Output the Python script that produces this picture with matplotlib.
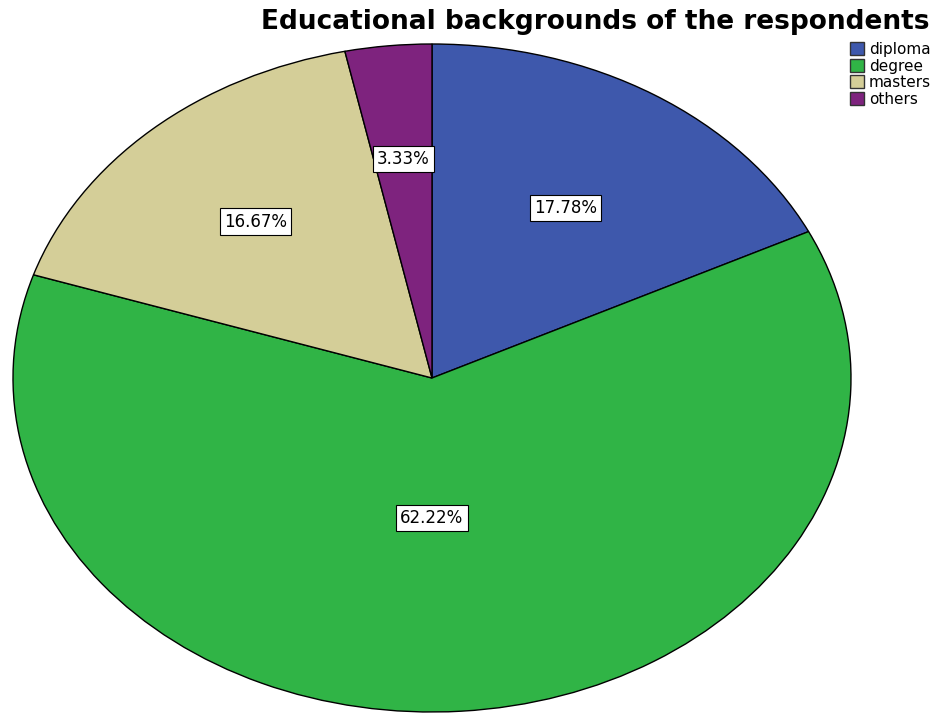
import numpy as np
import matplotlib.pyplot as plt
from matplotlib.patches import Patch

categories = ['diploma', 'degree', 'masters', 'others']
counts = [16, 56, 15, 3]
pct_labels = ['17.78%', '62.22%', '16.67%', '3.33%']
colors = ['#3E58AC', '#30B446', '#D4CE98', '#7E237E']
# label placement (radius, angle nudge in degrees) – SPSS puts them a bit oddly
label_radius = [0.6, 0.42, 0.63, 0.66]
label_nudge = [0, -4, 0, 0]

W, H = 952, 713
fig = plt.figure(figsize=(W / 100, H / 100), dpi=100)

# pie is drawn stretched into an ellipse: x span 13..851 px, y span 44..712 px
left, right, top, bottom = 13, 851, 44, 712
ax = fig.add_axes([left / W, (H - bottom) / H, (right - left) / W, (bottom - top) / H])
wedges, _ = ax.pie(counts, colors=colors, startangle=90, counterclock=False,
                   wedgeprops=dict(edgecolor='black', linewidth=1.0))
ax.set_aspect('auto')
ax.set_xlim(-1, 1)
ax.set_ylim(-1, 1)
ax.axis('off')

for w, lab, r, dn in zip(wedges, pct_labels, label_radius, label_nudge):
    mid = np.deg2rad((w.theta1 + w.theta2) / 2 + dn)
    ax.text(r * np.cos(mid), r * np.sin(mid), lab, ha='center', va='center',
            fontsize=12, family='DejaVu Sans',
            bbox=dict(boxstyle='square,pad=0.25', facecolor='white',
                      edgecolor='black', linewidth=0.8))

fig.text(595 / W, 1 - 22 / H, 'Educational backgrounds of the respondents',
         ha='center', va='center', fontsize=19, fontweight='bold',
         family='DejaVu Sans')

handles = [Patch(facecolor=c, edgecolor='#333333', linewidth=1.0) for c in colors]
fig.legend(handles, categories, loc='upper left',
           bbox_to_anchor=(850 / W, 1 - 42 / H), frameon=False,
           fontsize=11, handlelength=0.9, handleheight=0.9,
           handletextpad=0.35, labelspacing=0.1, borderaxespad=0,
           borderpad=0)

fig.savefig('out.png', dpi=100)
